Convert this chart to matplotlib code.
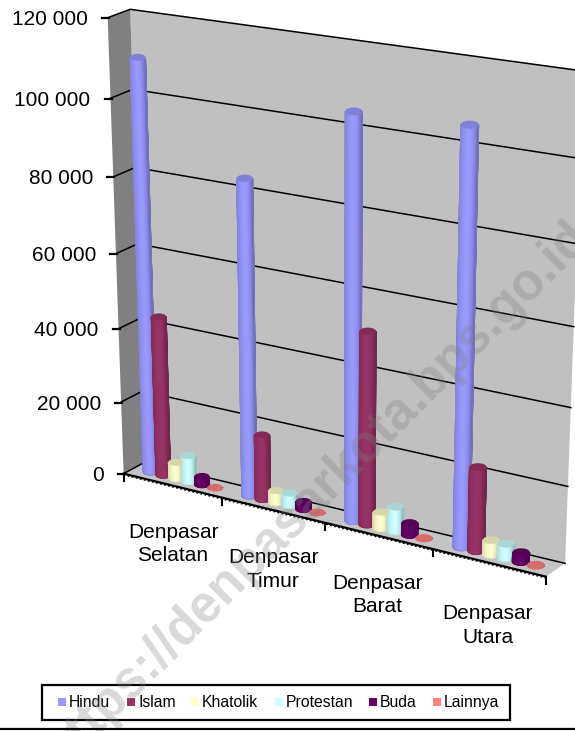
import numpy as np
import matplotlib
matplotlib.use('Agg')
import matplotlib.pyplot as plt
from matplotlib.colors import LinearSegmentedColormap
from matplotlib.patches import Rectangle

plt.rcParams['font.family'] = ['Liberation Sans', 'DejaVu Sans']

categories = ['Denpasar\nSelatan', 'Denpasar\nTimur', 'Denpasar\nBarat', 'Denpasar\nUtara']
series_names = ['Hindu', 'Islam', 'Khatolik', 'Protestan', 'Buda', 'Lainnya']
hindu = [109800, 83800, 104500, 105500]
islam = [43500, 17600, 50800, 22000]
khatolik = [4500, 3300, 4300, 3800]
protestan = [7200, 3500, 6600, 3800]
buda = [2300, 2100, 3200, 2500]
lainnya = [100, 100, 120, 150]
yticks = [0, 20000, 40000, 60000, 80000, 100000, 120000]
ytick_labels = ['0', '20 000', '40 000', '60 000', '80 000', '100 000', '120 000']
colors = ['#9999ff', '#993366', '#ffffcc', '#ccffff', '#660066', '#ff8080']
all_series = [hindu, islam, khatolik, protestan, buda, lainnya]

W, H = 575, 731
ZMAX = 120000.0

# camera fit: wall corners as seen in the picture (x=category, y=depth, z=value)
world = [(0, 1, ZMAX), (4, 1, ZMAX), (4, 1, 0), (0, 1, 0), (0, 0, 0), (0, 0, ZMAX), (4, 0, 0)]
screen = [(132, 9), (583, 71), (565, 563), (143, 463), (125, 473), (106, 18), (546, 577)]


def fit_camera(world, screen):
    rows = []
    for (x, y, z), (u, v) in zip(world, screen):
        z = z / ZMAX
        rows.append([x, y, z, 1, 0, 0, 0, 0, -u*x, -u*y, -u*z, -u])
        rows.append([0, 0, 0, 0, x, y, z, 1, -v*x, -v*y, -v*z, -v])
    _, _, vt = np.linalg.svd(np.array(rows, dtype=float))
    return vt[-1].reshape(3, 4)


CAM = fit_camera(world, screen)


def proj(x, y, z):
    x, y, z = np.broadcast_arrays(np.asarray(x, float), np.asarray(y, float), np.asarray(z, float) / ZMAX)
    p = CAM @ np.array([x.ravel(), y.ravel(), z.ravel(), np.ones(x.size)])
    return p[0] / p[2], p[1] / p[2]


def quad(ax, pts, **kw):
    xs, ys = proj(*zip(*pts))
    ax.fill(xs, ys, **kw)


def shade(color, k):
    c = np.array(matplotlib.colors.to_rgb(color))
    return tuple(c * k)


def half_width(cx, cy, z, r):
    xs, _ = proj([cx - r, cx + r], [cy, cy], [z, z])
    return 0.5*(xs[1] - xs[0])


def cylinder(ax, cx, cy, value, color, r=0.075, squash=0.44):
    xb, yb = proj(cx, cy, 0)
    xt, yt = proj(cx, cy, value)
    wb = half_width(cx, cy, 0, r)
    wt = half_width(cx, cy, value, r)
    zo = 5 + cx*0.01
    a = np.linspace(np.pi, 0, 25)
    f = np.cos(a)
    k = np.where(f > 0, 1.0 - 0.30*f*f, 1.0 - 0.14*f*f)
    X = np.array([xb + wb*np.cos(a), xt + wt*np.cos(a)])
    Y = np.array([yb + squash*wb*np.sin(a), yt + squash*wt*np.sin(a)])
    cmap = LinearSegmentedColormap.from_list('bar', [shade(color, 0.7), color])
    # soft edge under and round the mesh, gouraud quads have no antialiasing
    sx = np.r_[X[0], X[1][::-1]]
    sy = np.r_[Y[0], Y[1][::-1]]
    ax.fill(sx, sy, color=shade(color, 0.85), lw=0.6, zorder=zo)
    ax.pcolormesh(X, Y, np.array([k, k]), shading='gouraud', cmap=cmap, vmin=0.7, vmax=1.0, zorder=zo + 0.001)
    ax.plot(sx, sy, color=shade(color, 0.85), lw=0.4, alpha=0.8, zorder=zo + 0.002)
    t = np.linspace(0, 2*np.pi, 60)
    ax.fill(xt + wt*np.cos(t), yt + squash*wt*np.sin(t), color=shade(color, 0.84), lw=0, zorder=zo + 0.003)


fig = plt.figure(figsize=(W/100, H/100), dpi=100)
ax = fig.add_axes([0, 0, 1, 1])
ax.set_xlim(0, W)
ax.set_ylim(H, 0)
ax.set_autoscale_on(False)
ax.axis('off')

# walls and floor
quad(ax, [(0, 1, ZMAX), (4, 1, ZMAX), (4, 1, 0), (0, 1, 0)], color='#c0c0c0', lw=0, zorder=1)
quad(ax, [(0, 0, 0), (4, 0, 0), (4, 1, 0), (0, 1, 0)], color='#c4c4c4', lw=0, zorder=1)
quad(ax, [(0, 0, 0), (0, 1, 0), (0, 1, ZMAX), (0, 0, ZMAX)], color='#808080', lw=0, zorder=1)

# gridlines
for v, lab in zip(yticks, ytick_labels):
    xs, ys = proj([0, 0, 4], [0, 1, 1], [v, v, v])
    ax.plot(xs, ys, color='black', lw=1.1, zorder=2)
    xt, yt = proj(0, 0, v)
    ax.plot([xt[0] - 6, xt[0] + 1], [yt[0] + 0.5, yt[0] + 0.5], color='black', lw=1.6, zorder=2)
    ax.text(xt[0] - 20, yt[0] + 2, lab, ha='right', va='center', fontsize=15, color='black', zorder=8)

# base axis
xs, ys = proj([0, 4], [0, 0], [0, 0])
ax.plot(xs, ys, color='black', lw=1.6, zorder=3)
ax.plot(xs, np.array(ys) + 1.2, color='black', lw=1.2, ls=(0, (1, 1.5)), zorder=3)
for i in range(5):
    xt, yt = proj(i, 0, 0)
    ax.plot([xt[0], xt[0]], [yt[0], yt[0] + 7], color='black', lw=1.5, zorder=3)

# bars
for c in range(len(categories)):
    for s, vals in enumerate(all_series):
        cylinder(ax, c + 0.17 + s*0.132, 0.5, vals[c], colors[s])

# category labels
label_pos = [(173, 544), (273, 569.5), (377, 595), (488, 625.5)]
for c, name in enumerate(categories):
    ax.text(label_pos[c][0], label_pos[c][1], name, ha='center', va='center', fontsize=15, linespacing=1.3, zorder=8)

# legend
ax.add_patch(Rectangle((41.5, 684.5), 468.5, 35, fc='white', ec='black', lw=1.6, zorder=7))
swatch_x = [58, 127, 191, 275, 369, 433]
for sx, name, col in zip(swatch_x, series_names, colors):
    ax.add_patch(Rectangle((sx, 698), 8, 8, fc=col, ec='none', zorder=7.1))
    ax.text(sx + 11, 702.5, name, ha='left', va='center', fontsize=11.3, zorder=7.1)

ax.plot([0, W], [729, 729], color='black', lw=1.6, zorder=9)

# watermark runs off the page in the original too
ax.text(317, 494, 'https://denpasarkota.bps.go.id', rotation=45, rotation_mode='anchor', ha='center', va='center',
        fontsize=37, fontweight='bold', color='#808080', alpha=0.3, zorder=8.5)

fig.savefig('out.png', dpi=100)
